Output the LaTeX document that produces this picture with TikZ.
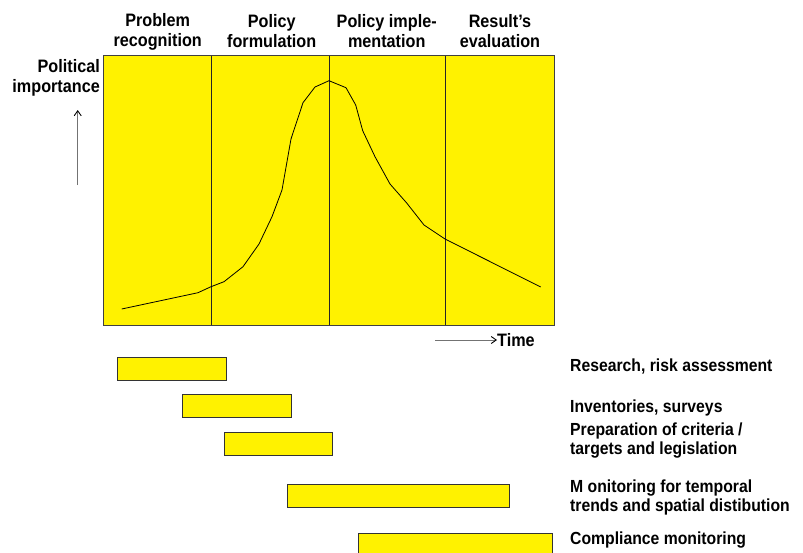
\documentclass[tikz,border=0pt]{standalone}
\usepackage{fontspec}
\setmainfont{Liberation Sans}
\newfontfamily\narrowsans[FakeStretch=0.9]{Liberation Sans}
\usetikzlibrary{positioning, calc, arrows.meta}

\tikzset{
  phase/.style={font=\narrowsans\bfseries\fontsize{18}{20}\selectfont, align=center, inner sep=0pt},
  task/.style={font=\narrowsans\bfseries\fontsize{17.5}{19}\selectfont, align=left, anchor=west, inner sep=0pt},
  bar/.style={draw=black!80, fill=yellow, line width=1pt, inner sep=0pt, anchor=north west},
  divider/.style={draw=black!85, line width=0.9pt},
  axisarrow/.style={draw=black!55, line width=0.9pt, -{Straight Barb[length=5pt, width=7pt, color=black]}},
}

\begin{document}
\begin{tikzpicture}[x=1pt, y=-1pt]
  \useasboundingbox (0,0) rectangle (803,552);
  \clip (0,0) rectangle (803,552);

  % Field
  \fill[yellow] (103,55) rectangle (554,325);

  % Phase dividers
  \foreach \x in {211, 329, 445} {
    \draw[divider] (\x,55) -- (\x,325);
  }
  \draw[black!75, line width=1pt] (103,55) rectangle (554,325);

  % Curve of political importance
  \draw[black, line width=0.8pt, line join=round]
    (121.7,309) -- (198,292.7) -- (211,286.7) -- (224,281.7) -- (243,266.7)
    -- (259,244) -- (272,216.7) -- (282,190) -- (291,139) -- (303,102.7)
    -- (315,87) -- (329,80.7) -- (346,87.7) -- (355.7,105) -- (362.7,130.7)
    -- (375,156.7) -- (390,184) -- (406.7,203) -- (424,225) -- (445,239)
    -- (540.7,287);

  % Phase headers
  \node[phase] (recog) at (157.7,31.5) {Problem\\recognition};
  \node[phase] (formul) at (271.7,31.5) {Policy\\formulation};
  \node[phase] (implem) at (386.7,31.5) {Policy imple-\\mentation};
  \node[phase] (evalu) at (500,31.5) {Result’s\\evaluation};

  % Axes
  \node[phase, align=right, anchor=east] (importance) at (100,78) {Political\\importance};
  \coordinate (ybot) at (77.7,185);
  \coordinate (ytop) at (77.7,110);
  \draw[axisarrow] (ybot) -- (ytop);

  \node[phase, anchor=west] (time) at (497,340) {Time};
  \coordinate (tstart) at (435,340);
  \draw[axisarrow] (tstart) -- (time.west);

  % Activity bars
  \foreach \name/\x/\y/\w in {bar1/117/357/109, bar2/182/394/109, bar3/224/432/108,
                              bar4/287/484/222, bar5/358/533/194} {
    \node[bar, minimum width=\w pt, minimum height=23pt] (\name) at (\x,\y) {};
  }

  % Activity labels
  \node[task] (research) at (570,366.7) {Research, risk assessment};
  \node[task] (inventory) at (570,408) {Inventories, surveys};
  \node[task] (criteria) at (570,440.5) {Preparation of criteria /\\targets and legislation};
  \node[task] (monitor) at (570,497.2) {M onitoring for temporal\\trends and spatial distibution};
  \node[task] (comply) at (570,540) {Compliance monitoring};
\end{tikzpicture}
\end{document}
